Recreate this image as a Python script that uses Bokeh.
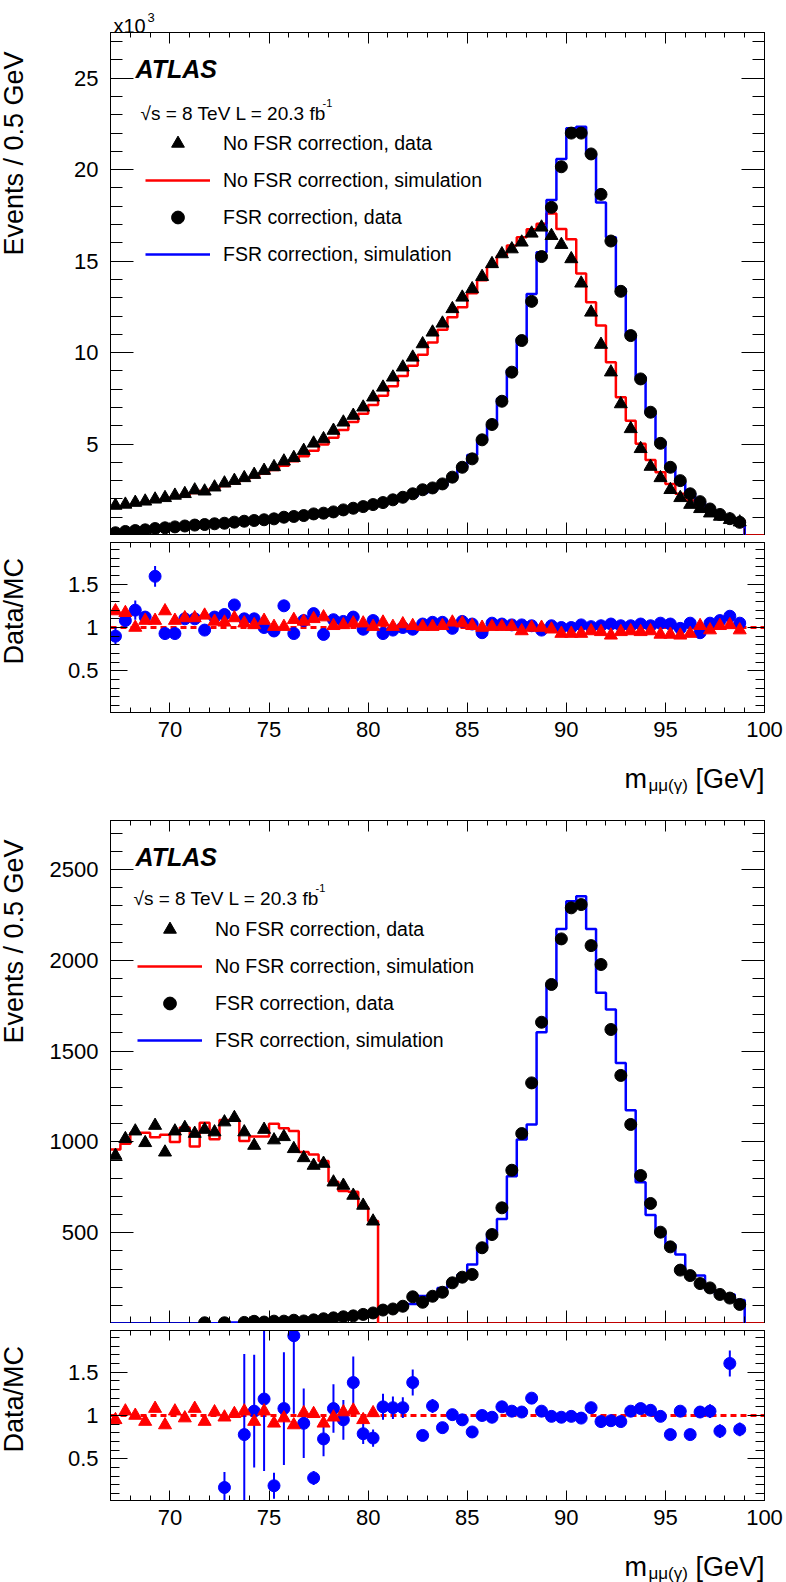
import math
import numpy as np
from bokeh.plotting import figure
from bokeh.models import (FixedTicker, Label, Legend, LegendItem, Span,
                          LinearAxis, Range1d)
from bokeh.layouts import gridplot
from bokeh.embed import file_html
from bokeh.resources import INLINE

NAN = float("nan")
FONT = "Liberation Sans"

# ---------------- binning ----------------
BIN_LO = 67.0
BIN_WIDTH = 0.5
X_RANGE = (67.0, 100.0)

x_ticks = [70, 75, 80, 85, 90, 95, 100]
x_minor = list(range(67, 101))

# ---------------- top panel (Events / 0.5 GeV, x10^3) ----------------
top_nofsr_data = [1.64, 1.70, 1.80, 1.87, 1.98, 2.06, 2.19, 2.28, 2.48, 2.42,
                  2.64, 2.86, 3.00, 3.15, 3.33, 3.55, 3.75, 4.06, 4.25, 4.64,
                  5.04, 5.28, 5.74, 6.19, 6.56, 7.01, 7.56, 8.10, 8.65, 9.20,
                  9.74, 10.47, 11.11, 11.60, 12.39, 13.02, 13.48, 14.15, 14.85, 15.39,
                  15.66, 16.03, 16.52, 16.85, 16.39, 15.90, 15.12, 13.79, 12.20, 10.44,
                  8.93, 7.19, 5.83, 4.74, 3.77, 3.15, 2.50, 2.06, 1.69, 1.46,
                  1.22, 1.04, 0.86, 0.73]
top_nofsr_sim = [1.52, 1.60, 1.69, 1.78, 1.88, 1.98, 2.09, 2.20, 2.32, 2.44,
                 2.57, 2.71, 2.86, 3.02, 3.19, 3.38, 3.58, 3.81, 4.06, 4.33,
                 4.64, 4.98, 5.35, 5.77, 6.21, 6.66, 7.14, 7.64, 8.16, 8.72,
                 9.28, 9.88, 10.55, 11.25, 11.93, 12.48, 13.25, 13.95, 14.70, 15.30,
                 15.85, 16.30, 16.75, 17.05, 17.60, 16.76, 16.20, 14.33, 12.75, 11.48,
                 9.47, 7.56, 6.28, 5.01, 4.13, 3.46, 2.82, 2.28, 1.91, 1.55,
                 1.33, 1.09, 0.97, 0.82, 0.0, 0.0]
top_fsr_data = [0.15, 0.22, 0.27, 0.31, 0.38, 0.42, 0.47, 0.52, 0.57, 0.60,
                0.64, 0.67, 0.73, 0.78, 0.82, 0.86, 0.91, 1.00, 1.04, 1.09,
                1.18, 1.22, 1.29, 1.40, 1.49, 1.58, 1.69, 1.80, 1.95, 2.09,
                2.28, 2.50, 2.60, 2.82, 3.19, 3.73, 4.19, 5.23, 6.07, 7.34,
                8.93, 10.66, 12.80, 15.25, 17.94, 20.16, 22.00, 22.00, 20.86, 18.65,
                16.10, 13.35, 10.93, 8.56, 6.74, 5.04, 3.73, 3.00, 2.28, 1.85,
                1.45, 1.15, 0.92, 0.72]
top_fsr_sim = [0.16, 0.20, 0.24, 0.28, 0.33, 0.38, 0.43, 0.48, 0.53, 0.57,
               0.61, 0.65, 0.69, 0.74, 0.79, 0.84, 0.89, 0.95, 1.01, 1.07,
               1.14, 1.21, 1.28, 1.36, 1.45, 1.54, 1.64, 1.75, 1.87, 2.00,
               2.15, 2.32, 2.50, 2.72, 3.15, 3.75, 4.40, 5.19, 6.01, 7.47,
               9.05, 10.75, 13.20, 15.48, 18.34, 20.58, 22.27, 22.35, 20.86, 18.21,
               16.30, 13.48, 10.93, 8.65, 6.68, 5.15, 3.75, 2.95, 2.30, 1.80,
               1.42, 1.12, 0.88, 0.68]
top_ratio_fsr = [0.90, 1.08, 1.20, 1.12, 1.59, 0.93, 0.93, 1.10, 1.10, 0.97,
                 1.12, 1.15, 1.26, 1.10, 1.10, 1.00, 0.96, 1.25, 0.93, 1.08,
                 1.16, 0.92, 1.09, 1.07, 1.12, 0.98, 1.08, 0.93, 0.97, 1.00,
                 0.98, 1.04, 1.06, 1.06, 0.99, 1.07, 1.04, 0.94, 1.05, 1.04,
                 1.03, 1.03, 1.02, 0.97, 1.02, 1.00, 1.00, 1.03, 1.01, 1.02,
                 1.04, 1.02, 1.02, 1.04, 1.02, 1.05, 1.04, 0.99, 1.05, 0.94,
                 1.05, 1.08, 1.13, 1.05]
top_ratio_fsr_err = [0.10, 0.07, 0.11, 0.06, 0.12, 0.05, 0.05, 0.05, 0.05, 0.05,
                     0.04, 0.04, 0.04, 0.04, 0.04, 0.04, 0.04, 0.04, 0.04, 0.04,
                     0.03, 0.03, 0.03, 0.03, 0.03, 0.03, 0.03, 0.03, 0.03, 0.03,
                     0.03, 0.03, 0.03, 0.03, 0.02, 0.02, 0.02, 0.02, 0.02, 0.02,
                     0.02, 0.02, 0.02, 0.02, 0.02, 0.02, 0.02, 0.02, 0.02, 0.02,
                     0.02, 0.02, 0.02, 0.02, 0.02, 0.02, 0.03, 0.03, 0.03, 0.03,
                     0.03, 0.03, 0.03, 0.03]
top_ratio_nofsr = [1.19, 1.17, 1.00, 1.08, 1.08, 1.19, 1.08, 1.11, 1.11, 1.14,
                   1.07, 1.06, 1.11, 1.05, 1.03, 1.08, 1.01, 1.01, 1.09, 1.07,
                   1.10, 1.12, 1.02, 1.03, 1.05, 1.05, 1.01, 1.06, 1.01, 1.04,
                   1.02, 1.01, 1.01, 1.02, 1.06, 1.05, 1.02, 1.00, 1.01, 1.01,
                   1.01, 0.96, 1.00, 1.00, 0.98, 0.93, 0.93, 0.93, 0.96, 0.95,
                   0.91, 0.95, 0.96, 0.95, 0.96, 0.92, 0.92, 0.91, 0.93, 1.02,
                   0.97, 1.02, 1.03, 0.97]

# ---------------- bottom panel (Events / 0.5 GeV) ----------------
bot_nofsr_data = [925, 1017, 1059, 995, 1090, 943, 1059, 1078, 1046, 1068,
                  1054, 1109, 1133, 1054, 980, 1068, 1010, 1028, 962, 912,
                  870, 881, 778, 760, 705, 650, 563]
bot_nofsr_sim = [958, 990, 1050, 1050, 1025, 1040, 1000, 1080, 975, 1105,
                 1015, 1120, 1120, 1005, 1030, 1030, 1100, 1075, 1060, 945,
                 930, 895, 780, 730, 725, 640, 565, 0, 0, 0,
                 0, 0, 0, 0, 0, 0, 0, 0, 0, 0,
                 0, 0, 0, 0, 0, 0, 0, 0, 0, 0,
                 0, 0, 0, 0, 0, 0, 0, 0, 0, 0,
                 0, 0, 0, 0, 0, 0]
bot_fsr_data = [NAN, NAN, NAN, NAN, NAN, NAN, NAN, NAN, NAN, 4,
                NAN, 4, NAN, 6, 12, 8, 13, 13, 18, 14,
                20, 26, 31, 37, 42, 50, 58, 74, 80, 95,
                147, 117, 150, 172, 224, 255, 270, 417, 490, 637,
                844, 1046, 1325, 1659, 1867, 2118, 2289, 2307, 2081, 1977,
                1619, 1366, 1096, 815, 661, 503, 422, 294, 264, 220,
                196, 160, 140, 105]
bot_fsr_sim = [0, 0, 0, 0, 0, 0, 0, 0, 0, 0,
               1, 8, 6, 9, 11, 10, 14, 13, 17, 18,
               22, 25, 30, 35, 38, 46, 56, 66, 74, 88,
               108, 152, 158, 196, 224, 268, 325, 417, 499, 576,
               811, 1013, 1096, 1604, 1867, 2173, 2325, 2353, 2173, 1821,
               1729, 1435, 1175, 778, 597, 499, 435, 380, 270, 264,
               187, 160, 160, 130]
bot_ratio_fsr = [NAN, NAN, NAN, NAN, NAN, NAN, NAN, NAN, NAN, NAN,
                 NAN, 0.17, NAN, 0.78, 1.05, 1.19, 0.19, 1.08, 1.92, 0.91,
                 0.28, 0.73, 1.08, 0.95, 1.38, 0.79, 0.74, 1.10, 1.09, 1.09,
                 1.38, 0.77, 1.11, 0.86, 1.01, 0.95, 0.81, 1.00, 0.98, 1.10,
                 1.05, 1.04, 1.20, 1.05, 0.99, 0.98, 0.99, 0.97, 1.09, 0.93,
                 0.94, 0.93, 1.05, 1.08, 1.06, 0.99, 0.78, 1.05, 0.78, 1.04,
                 1.05, 0.82, 1.60, 0.84]
bot_ratio_fsr_err = [NAN, NAN, NAN, NAN, NAN, NAN, NAN, NAN, NAN, NAN,
                     NAN, 0.18, NAN, 0.93, 0.65, 0.83, 0.15, 0.65, 0.90, 0.40,
                     0.08, 0.20, 0.28, 0.23, 0.30, 0.12, 0.10, 0.15, 0.13, 0.12,
                     0.15, 0.06, 0.08, 0.05, 0.05, 0.04, 0.04, 0.03, 0.03, 0.03,
                     0.03, 0.03, 0.03, 0.03, 0.03, 0.03, 0.03, 0.03, 0.03, 0.03,
                     0.03, 0.03, 0.03, 0.04, 0.04, 0.05, 0.05, 0.06, 0.06, 0.07,
                     0.08, 0.08, 0.15, 0.08]
bot_ratio_nofsr = [0.95, 1.05, 1.00, 0.93, 1.08, 0.89, 1.05, 0.97, 1.08, 0.93,
                   1.04, 0.98, 1.02, 1.05, 0.93, 1.05, 0.91, 0.97, 0.89, 1.03,
                   1.02, 0.91, 0.98, 1.04, 1.06, 0.95, 1.03]

# ---------------- axes / texts ----------------
top_y_ticks = [5, 10, 15, 20, 25]
top_y_minor = list(range(1, 28))
bot_y_ticks = [500, 1000, 1500, 2000, 2500]
bot_y_minor = [100 * k for k in range(1, 28)]
ratio_y_ticks = [0.5, 1.0, 1.5]
ratio_y_minor = [round(0.1 * k, 1) for k in range(1, 20)]
ratio_labels = {0.5: "0.5", 1.0: "1", 1.5: "1.5"}
ratio_ref = 1.0

TOP_YMAX = 27.5
BOT_YMAX = 2770.0
RATIO_RANGE = (0.02, 1.98)

legend_labels = ["No FSR correction, data", "No FSR correction, simulation",
                 "FSR correction, data", "FSR correction, simulation"]
y_title = "Events / 0.5 GeV"
ratio_title = "Data/MC"
RED = "#ff0000"
BLUE = "#0000ff"

# ---------------- layout sizes (px) ----------------
STRIP_W = 40
FRAME_W = 654
BORDER_L = 70
BORDER_R = 22
MAIN_H = 503
RATIO_H = 170
RATIO_TOP = 7
RATIO_BOTTOM = 36
HEAD_H = 32
XT_H = 46
PANEL2_TOP = 26
TITLE_X = 13


def centers(n):
    return BIN_LO + BIN_WIDTH * (np.arange(n) + 0.5)


def edges(n):
    return BIN_LO + BIN_WIDTH * np.arange(n + 1)


def ax_style(ax, ticker, maj, mnr, show, standoff=12, overrides=None):
    ax.ticker = ticker
    ax.major_tick_in = maj
    ax.major_tick_out = 0
    ax.minor_tick_in = mnr
    ax.minor_tick_out = 0
    ax.axis_line_color = "black"
    ax.axis_line_width = 1
    ax.major_tick_line_color = "black"
    ax.minor_tick_line_color = "black"
    ax.major_tick_line_width = 1
    ax.minor_tick_line_width = 1
    if show:
        ax.major_label_text_font = FONT
        ax.major_label_text_font_size = "22px"
        ax.major_label_text_color = "black"
        ax.major_label_standoff = standoff
        if overrides:
            ax.major_label_overrides = overrides
    else:
        ax.major_label_text_font_size = "0px"
        ax.major_label_text_color = None
        ax.major_label_standoff = 0


def new_fig(frame_h, yr, top, bottom):
    p = figure(frame_width=FRAME_W, frame_height=frame_h, title=None,
               x_range=Range1d(*X_RANGE), y_range=Range1d(*yr),
               min_border_left=BORDER_L, min_border_right=BORDER_R,
               min_border_top=top, min_border_bottom=bottom,
               output_backend="svg", toolbar_location=None)
    p.grid.visible = False
    p.outline_line_color = "black"
    p.background_fill_color = "white"
    p.border_fill_color = "white"
    p.add_layout(LinearAxis(), "above")
    p.add_layout(LinearAxis(), "right")
    return p


def strip(fw, fh, left=0, right=0, top=0, bottom=0):
    # plain drawing area: data units are frame pixels, y measured downward
    p = figure(frame_width=fw, frame_height=fh, title=None,
               x_range=Range1d(0, fw), y_range=Range1d(fh, 0),
               x_axis_location=None, y_axis_location=None,
               min_border_left=left, min_border_right=right,
               min_border_top=top, min_border_bottom=bottom,
               output_backend="svg", toolbar_location=None)
    p.grid.visible = False
    p.outline_line_color = None
    p.background_fill_color = "white"
    p.border_fill_color = "white"
    return p


def add_label(p, x, y, text, dx, dy, size, style="normal", align="left", angle=0.0):
    p.add_layout(Label(x=x, y=y, x_offset=dx, y_offset=dy, text=text,
                       text_font=FONT, text_font_size=size, text_font_style=style,
                       text_align=align, text_baseline="alphabetic", angle=angle,
                       text_color="black"))


def main_panel(ymax, yticks, yminor, nd, ns, fd, fs, top_border, leg_x, leg_y,
               sqrt_dx, sqrt_dy, sup_dy):
    p = new_fig(MAIN_H, (0, ymax), top_border, 0)
    yt = FixedTicker(ticks=yticks, minor_ticks=yminor)
    xt = FixedTicker(ticks=x_ticks, minor_ticks=x_minor)
    ax_style(p.left[0], yt, 23, 12, True)
    ax_style(p.right[0], yt, 23, 12, False)
    ax_style(p.below[0], xt, 13, 7, False)
    ax_style(p.above[0], xt, 11, 5, False)

    r_rs = p.step(x=edges(len(ns)), y=list(ns) + [0], mode="after",
                  line_color=RED, line_width=2.5)
    r_bs = p.step(x=edges(len(fs)), y=list(fs) + [0], mode="after",
                  line_color=BLUE, line_width=2.5)
    r_tri = p.scatter(x=centers(len(nd)), y=nd, marker="triangle", size=13,
                      fill_color="black", line_color="black")
    r_cir = p.scatter(x=centers(len(fd)), y=fd, marker="circle", size=12,
                      fill_color="black", line_color="black")

    items = [LegendItem(label=legend_labels[0], renderers=[r_tri]),
             LegendItem(label=legend_labels[1], renderers=[r_rs]),
             LegendItem(label=legend_labels[2], renderers=[r_cir]),
             LegendItem(label=legend_labels[3], renderers=[r_bs])]
    leg = Legend(items=items, location=(leg_x, leg_y), glyph_width=65,
                 glyph_height=32, label_height=32, label_standoff=13, spacing=5,
                 padding=0, margin=0, border_line_alpha=0,
                 background_fill_alpha=0, label_text_font=FONT,
                 label_text_font_size="19.5px", label_text_color="black")
    p.add_layout(leg)

    x0 = X_RANGE[0]
    add_label(p, x0, ymax, "ATLAS", 25, -36, "25px", style="bold italic")
    add_label(p, x0, ymax, "\u221as = 8 TeV L = 20.3 fb", sqrt_dx, sqrt_dy, "19px")
    add_label(p, x0, ymax, "-1", sqrt_dx + 182, sup_dy, "11px")
    return p


def ratio_panel(rf, rf_err, rn):
    p = new_fig(RATIO_H, RATIO_RANGE, RATIO_TOP, RATIO_BOTTOM)
    yt = FixedTicker(ticks=ratio_y_ticks, minor_ticks=ratio_y_minor)
    xt = FixedTicker(ticks=x_ticks, minor_ticks=x_minor)
    ax_style(p.left[0], yt, 17, 9, True, overrides=ratio_labels)
    ax_style(p.right[0], yt, 17, 9, False)
    ax_style(p.below[0], xt, 10, 5, True, standoff=9)
    ax_style(p.above[0], xt, 10, 5, False)

    p.add_layout(Span(location=ratio_ref, dimension="width", line_color=RED,
                      line_dash="6 4", line_width=3, level="underlay"))

    rf = np.array(rf, dtype=float)
    er = np.array(rf_err, dtype=float)
    xc = centers(len(rf))
    p.segment(x0=xc, y0=rf - er, x1=xc, y1=rf + er, line_color=BLUE, line_width=2)
    p.scatter(x=xc, y=rf, marker="circle", size=12, fill_color=BLUE, line_color=BLUE)
    p.scatter(x=centers(len(rn)), y=rn, marker="triangle", size=13,
              fill_color=RED, line_color=RED)
    return p


def x_title_strip():
    s = strip(FRAME_W, XT_H, left=BORDER_L, right=BORDER_R)
    add_label(s, 514, 30, "m", 0, 0, "27px")
    add_label(s, 538, 37, "\u03bc\u03bc(\u03b3)", 0, 0, "17px")
    add_label(s, 585, 30, "[GeV]", 0, 0, "27px")
    return s


def title_strip(fh, text, bottom_end, top=0, bottom=0):
    s = strip(STRIP_W, fh, top=top, bottom=bottom)
    add_label(s, TITLE_X, bottom_end, text, 0, 0, "27px", angle=math.pi / 2)
    return s


# ---- panel 1
head = strip(FRAME_W, HEAD_H, left=BORDER_L, right=BORDER_R)
add_label(head, 3, 25, "x10", 0, 0, "20px")
add_label(head, 37, 17, "3", 0, 0, "13px")
pA = main_panel(TOP_YMAX, top_y_ticks, top_y_minor, top_nofsr_data, top_nofsr_sim,
                top_fsr_data, top_fsr_sim, 0, 35, 265, 30, -81, -70)
pB = ratio_panel(top_ratio_fsr, top_ratio_fsr_err, top_ratio_nofsr)
xt1 = x_title_strip()

# ---- panel 2
pC = main_panel(BOT_YMAX, bot_y_ticks, bot_y_minor, bot_nofsr_data, bot_nofsr_sim,
                bot_fsr_data, bot_fsr_sim, PANEL2_TOP, 27, 267, 23, -78, -67)
pD = ratio_panel(bot_ratio_fsr, bot_ratio_fsr_err, bot_ratio_nofsr)
xt2 = x_title_strip()

rows = [
    [strip(STRIP_W, HEAD_H), head],
    [title_strip(MAIN_H, y_title, 223), pA],
    [title_strip(RATIO_H, ratio_title, 122, RATIO_TOP, RATIO_BOTTOM), pB],
    [strip(STRIP_W, XT_H), xt1],
    [title_strip(MAIN_H, y_title, 223, top=PANEL2_TOP), pC],
    [title_strip(RATIO_H, ratio_title, 122, RATIO_TOP, RATIO_BOTTOM), pD],
    [strip(STRIP_W, XT_H), xt2],
]
grid = gridplot(rows, toolbar_location=None)
open("out.html", "w").write(file_html(grid, INLINE))
